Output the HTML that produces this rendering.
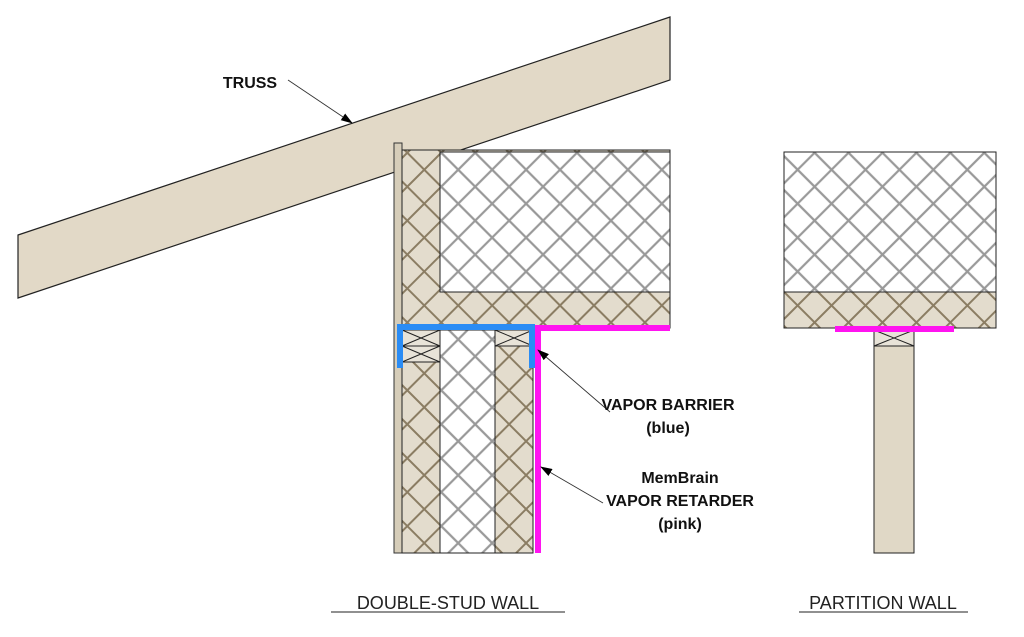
<!DOCTYPE html>
<html><head><style>
html,body{margin:0;padding:0;background:#fff;width:1024px;height:637px;overflow:hidden}
text{font-family:"Liberation Sans",sans-serif}
</style></head><body>
<svg width="1024" height="637" viewBox="0 0 1024 637" xmlns="http://www.w3.org/2000/svg">
<defs>
<pattern id="wh" width="24" height="24" patternUnits="userSpaceOnUse" patternTransform="rotate(45)">
<rect width="24" height="24" fill="#fff"/>
<path d="M0 12H24M12 0V24" stroke="#999" stroke-width="2.2" fill="none"/>
</pattern>
<pattern id="bh" width="24" height="24" patternUnits="userSpaceOnUse" patternTransform="rotate(45)">
<rect width="24" height="24" fill="#e3dccd"/>
<path d="M0 12H24M12 0V24" stroke="#8b7d63" stroke-width="2" fill="none"/>
</pattern>
<marker id="ar" markerWidth="12" markerHeight="8" refX="11" refY="4" orient="auto" markerUnits="userSpaceOnUse">
<path d="M0 0L12 4L0 8z" fill="#000"/>
</marker>
</defs>
<polygon points="18,235 670,17 670,80 18,298" fill="#e2d9c7" stroke="#222" stroke-width="1.2"/>
<rect x="394" y="143" width="8" height="410" fill="#d6cdb9" stroke="#333" stroke-width="1"/>
<rect x="402" y="150" width="268" height="178" fill="url(#bh)" stroke="#222" stroke-width="1"/>
<rect x="440" y="152" width="230" height="140" fill="url(#wh)" stroke="#222" stroke-width="1"/>
<rect x="402" y="330" width="38" height="223" fill="url(#bh)" stroke="#222" stroke-width="1"/>
<rect x="440" y="330" width="55" height="223" fill="url(#wh)" stroke="#222" stroke-width="1"/>
<rect x="495" y="330" width="38" height="223" fill="url(#bh)" stroke="#222" stroke-width="1"/>
<g stroke="#222" stroke-width="1" fill="#e8e3d8">
<rect x="402" y="330" width="38" height="16"/><path d="M402 330L440 346M440 330L402 346"/>
<rect x="402" y="346" width="38" height="16"/><path d="M402 346L440 362M440 346L402 362"/>
<rect x="495" y="330" width="38" height="16"/><path d="M495 330L533 346M533 330L495 346"/>
</g>
<path d="M535 328H670M538 328V553" stroke="#ff14f0" stroke-width="6" fill="none"/>
<path d="M400 368V327H532V368" stroke="#2a8cf5" stroke-width="6" fill="none"/>
<rect x="784" y="152" width="212" height="176" fill="url(#bh)" stroke="#222" stroke-width="1"/>
<rect x="784" y="152" width="212" height="140" fill="url(#wh)" stroke="#222" stroke-width="1"/>
<rect x="874" y="330" width="40" height="223" fill="#e0d8c6" stroke="#222" stroke-width="1"/>
<g stroke="#222" stroke-width="1" fill="#e8e3d8"><rect x="874" y="330" width="40" height="16"/><path d="M874 330L914 346M914 330L874 346"/></g>
<path d="M835 329H954" stroke="#ff14f0" stroke-width="6"/>
<g stroke="#333" stroke-width="0.9" fill="none" marker-end="url(#ar)">
<path d="M288 80L352 123"/>
<path d="M610 412L538 350"/>
<path d="M603 503L541 467"/>
</g>
<g font-weight="bold" font-size="16" fill="#111" text-anchor="middle">
<text x="250" y="88">TRUSS</text>
<text x="668" y="410">VAPOR BARRIER</text>
<text x="668" y="433">(blue)</text>
<text x="680" y="483">MemBrain</text>
<text x="680" y="506">VAPOR RETARDER</text>
<text x="680" y="529">(pink)</text>
</g>
<g font-size="18" fill="#222" text-anchor="middle">
<text x="448" y="609">DOUBLE-STUD WALL</text>
<text x="883" y="609">PARTITION WALL</text>
</g>
<path d="M331 612H565M799 612H968" stroke="#222" stroke-width="1"/>
</svg>
</body></html>
